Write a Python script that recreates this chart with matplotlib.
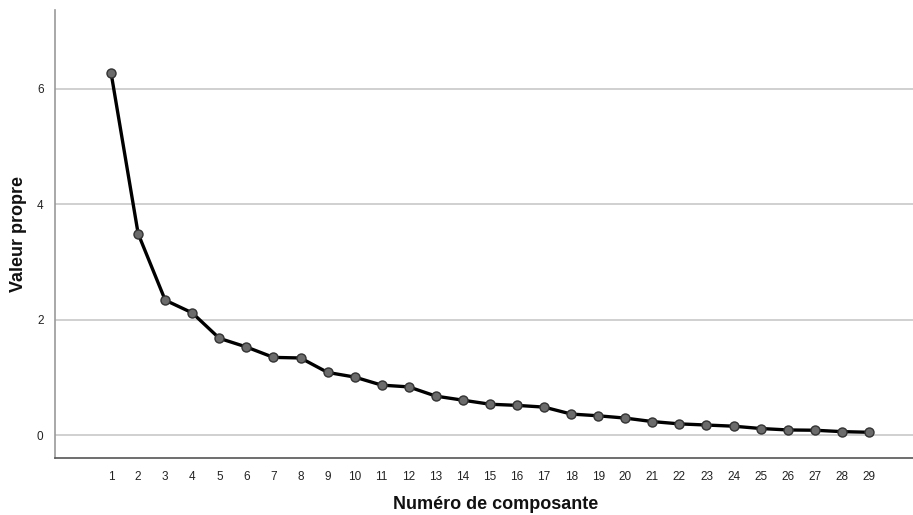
import matplotlib
matplotlib.use('agg')
import matplotlib.pyplot as plt

composantes = list(range(1, 30))
valeurs_propres = [6.27, 3.49, 2.34, 2.12, 1.68, 1.53, 1.35, 1.34, 1.09, 1.01,
                   0.87, 0.84, 0.68, 0.61, 0.54, 0.52, 0.49, 0.37, 0.34, 0.30,
                   0.24, 0.20, 0.18, 0.16, 0.12, 0.095, 0.09, 0.066, 0.055]
y_ticks = [0, 2, 4, 6]

plt.rcParams['font.family'] = ['Liberation Sans', 'DejaVu Sans']

fig = plt.figure(figsize=(9.13, 5.15), dpi=100)
ax = fig.add_axes([0.0606, 0.1107, 0.9394, 0.87])

ax.plot(composantes, valeurs_propres, '-', color='black', lw=2.4, zorder=3)
ax.plot(composantes, valeurs_propres, 'o', markersize=6.5, markerfacecolor='#6b6b6b',
        markeredgecolor='#333333', markeredgewidth=1.0, zorder=4)

ax.set_xlim(-1.06, 30.63)
ax.set_ylim(-0.39, 7.36)
ax.set_xticks(composantes)
ax.set_xticklabels([str(c) for c in composantes], fontsize=8.5, color='#222222')
ax.set_yticks(y_ticks)
ax.set_yticklabels([str(v) for v in y_ticks], fontsize=8.5, color='#222222')
ax.tick_params(top=False, bottom=False, left=False, right=False)
ax.tick_params(axis='x', pad=6)
ax.tick_params(axis='y', pad=5)

for v in y_ticks:
    ax.axhline(v, color='#c8c8c8', lw=1.2, zorder=1)

for spine in ['top', 'right']:
    ax.spines[spine].set_visible(False)
ax.spines['left'].set_color('#999999')
ax.spines['left'].set_linewidth(1.2)
ax.spines['bottom'].set_color('#555555')
ax.spines['bottom'].set_linewidth(1.2)

fig.text(0.543, 0.021, 'Numéro de composante', ha='center', va='center',
         fontsize=13, fontweight='bold', color='#111111')
fig.text(0.0203, 0.545, 'Valeur propre', ha='center', va='center', rotation=90,
         fontsize=13, fontweight='bold', color='#111111')

fig.savefig('out.png', dpi=100)
